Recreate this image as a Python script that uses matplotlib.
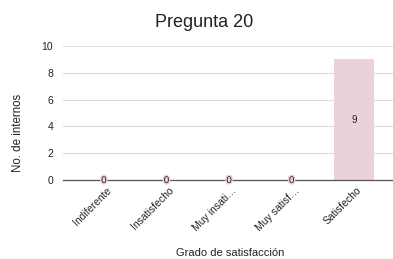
import matplotlib
matplotlib.use('Agg')
import matplotlib.pyplot as plt
import matplotlib.patheffects as pe
import matplotlib.transforms as mtrans

categories = ['Indiferente', 'Insatisfecho', 'Muy insati…', 'Muy satisf…', 'Satisfecho']
values = [0, 0, 0, 0, 9]
yticks = [0, 2, 4, 6, 8, 10]

plt.rcParams['font.family'] = ['Liberation Sans', 'DejaVu Sans']
text_color = '#222222'
bar_color = '#ead1dc'

fig = plt.figure(figsize=(3.93, 2.59), dpi=100)
ax = fig.add_axes([0.160, 0.305, 0.840, 0.517])

x = list(range(len(categories)))
ax.bar(x, values, width=0.64, color=bar_color, zorder=3)

# value labels: zeros sit on the baseline, others mid-bar
for xi, v in zip(x, values):
    ypos = v / 2 if v > 0 else 0
    t = ax.text(xi, ypos, str(v), ha='center', va='center', fontsize=7,
                color=text_color, zorder=5)
    if v == 0:
        t.set_path_effects([pe.withStroke(linewidth=2.2, foreground=bar_color)])

ax.set_xlim(-0.656, 4.62)
ax.set_ylim(0, 10)
ax.set_yticks(yticks)
ax.set_yticklabels([str(v) for v in yticks], fontsize=7.5, color=text_color)
ax.set_xticks(x)
ax.set_xticklabels([])
ax.tick_params(axis='y', length=0, pad=7)
ax.tick_params(axis='x', length=0)

# rotated category labels, drawn by hand so they can sit right of the tick
shift = mtrans.ScaledTranslation(6 / 100, -9 / 100, fig.dpi_scale_trans)
for xi, cat in zip(x, categories):
    ax.text(xi, 0, cat, transform=ax.get_xaxis_transform() + shift,
            rotation=45, ha='right', va='center', rotation_mode='anchor',
            fontsize=7.5, color=text_color)

ax.grid(axis='y', color='#dcdcdc', linewidth=0.8, zorder=0)
for s in ['top', 'right', 'left']:
    ax.spines[s].set_visible(False)
ax.spines['bottom'].set_color('#555555')
ax.spines['bottom'].set_linewidth(0.9)
ax.spines['bottom'].set_zorder(4)

ax.set_xlabel('Grado de satisfacción', fontsize=8, color=text_color)
ax.xaxis.set_label_coords((230 - 63) / 330, (180 - 253) / 134)
ax.xaxis.label.set_va('center')
ax.set_ylabel('No. de internos', fontsize=8.3, color=text_color)
ax.yaxis.set_label_coords((18 - 63) / 330, (180 - 133) / 134)
ax.yaxis.label.set_va('center')
fig.text(0.52, 0.913, 'Pregunta 20', ha='center', va='center', fontsize=13,
         color=text_color)

fig.savefig('out.png', dpi=100, facecolor='white')
